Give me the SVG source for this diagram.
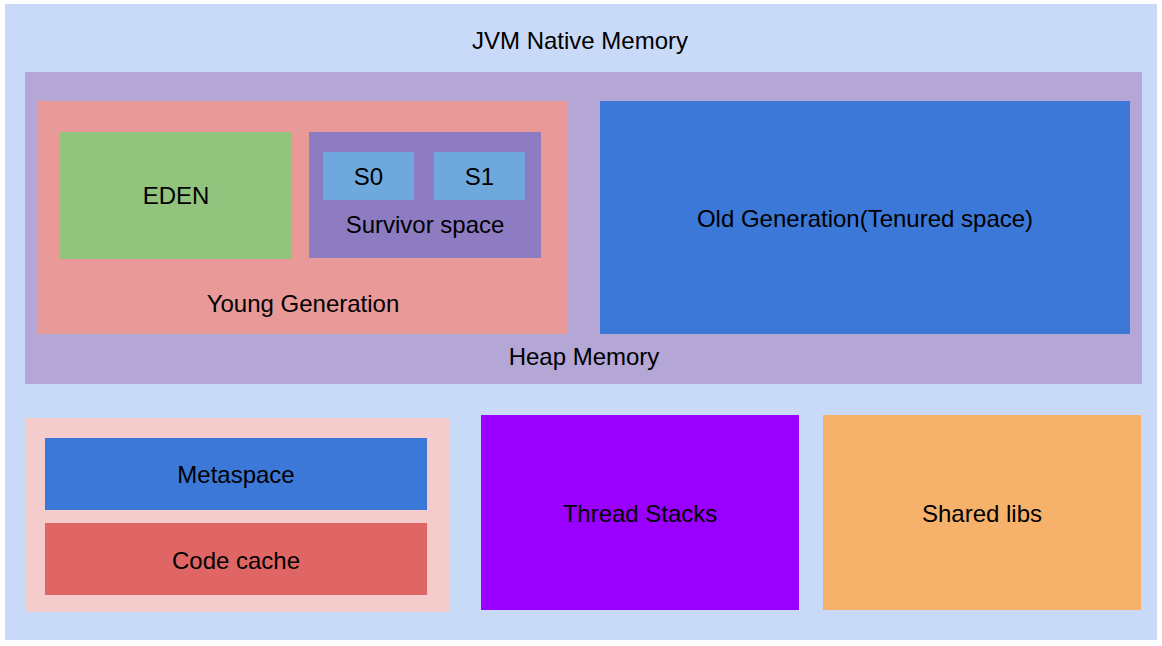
<svg xmlns="http://www.w3.org/2000/svg" width="1162" height="646" viewBox="0 0 1162 646">
<style>
text{font-family:"Liberation Sans",Arial,sans-serif;font-size:24px;fill:#000;text-anchor:middle}
</style>
<rect width="1162" height="646" fill="#ffffff"/>
<g id="jvm-native">
<rect x="5" y="4" width="1152" height="636" fill="#c9daf8"/>
<text x="580" y="48.5">JVM Native Memory</text>
</g>
<g id="heap">
<rect x="25" y="72" width="1117" height="312" fill="#b4a7d6"/>
<text x="584" y="365">Heap Memory</text>
</g>
<g id="young">
<rect x="38" y="101" width="529" height="233" fill="#ea9999"/>
<text x="303" y="312">Young Generation</text>
</g>
<g id="eden">
<rect x="60" y="132" width="232" height="127" fill="#93c47d"/>
<text x="176" y="204">EDEN</text>
</g>
<g id="survivor">
<rect x="309" y="132" width="232" height="126" fill="#8e7cc3"/>
<text x="425" y="233">Survivor space</text>
</g>
<g id="s0">
<rect x="323" y="152" width="91" height="48" fill="#6fa8dc"/>
<text x="368.5" y="185">S0</text>
</g>
<g id="s1">
<rect x="434" y="152" width="91" height="48" fill="#6fa8dc"/>
<text x="479.5" y="185">S1</text>
</g>
<g id="old">
<rect x="600" y="101" width="530" height="233" fill="#3c78d8"/>
<text x="865" y="227">Old Generation(Tenured space)</text>
</g>
<g id="nonheap">
<rect x="25" y="418" width="424" height="194" fill="#f4cccc"/>
</g>
<g id="metaspace">
<rect x="45" y="438" width="382" height="72" fill="#3c78d8"/>
<text x="236" y="483">Metaspace</text>
</g>
<g id="codecache">
<rect x="45" y="523" width="382" height="72" fill="#e06666"/>
<text x="236" y="569">Code cache</text>
</g>
<g id="threads">
<rect x="481" y="415" width="318" height="195" fill="#9900ff"/>
<text x="640" y="522">Thread Stacks</text>
</g>
<g id="shared">
<rect x="823" y="415" width="318" height="195" fill="#f6b26b"/>
<text x="982" y="522">Shared libs</text>
</g>
<g id="connectors"/>
</svg>
